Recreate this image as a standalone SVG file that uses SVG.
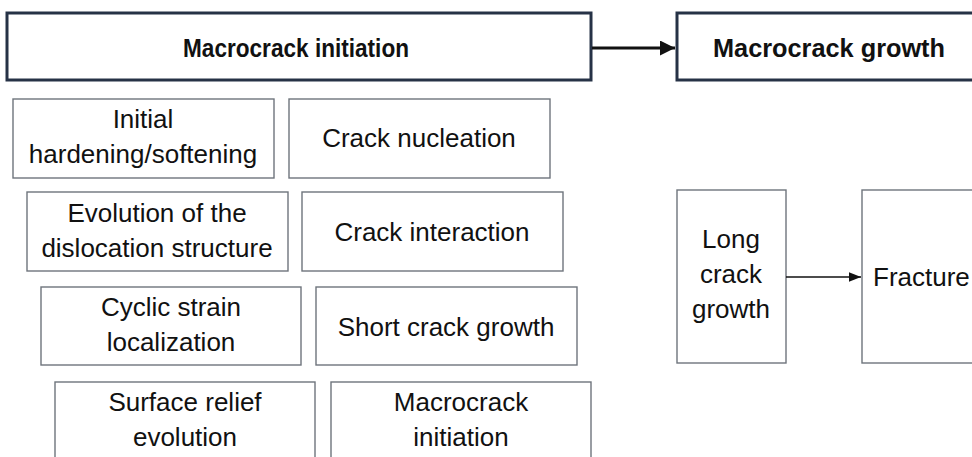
<svg xmlns="http://www.w3.org/2000/svg" width="972" height="457" viewBox="0 0 972 457">
<style>
.bg{fill:#ffffff}
.main{fill:#ffffff;stroke:#263246;stroke-width:3}
.box{fill:#ffffff;stroke:#6e747c;stroke-width:1.4}
text{font-family:"Liberation Sans",Arial,sans-serif;fill:#111111;text-anchor:middle}
.t{font-size:26px}
.b{font-size:26.5px;font-weight:bold}
.c1{stroke:#111111;stroke-width:3;fill:none}
.c2{stroke:#111111;stroke-width:1.5;fill:none}
</style>
<defs>
<marker id="ah1" markerWidth="5" markerHeight="5" refX="5" refY="2.5" orient="auto" markerUnits="strokeWidth"><path d="M0,0 L5,2.5 L0,5 z" fill="#111111"/></marker>
<marker id="ah2" markerWidth="8" markerHeight="8" refX="8" refY="4" orient="auto" markerUnits="strokeWidth"><path d="M0,0.8 L8,4 L0,7.2 z" fill="#111111"/></marker>
</defs>
<rect class="bg" x="0" y="0" width="972" height="457"/>
<g id="macro-init">
<rect class="main" x="7" y="13" width="584" height="67"/>
<text class="b" x="183" y="57" style="text-anchor:start" textLength="226" lengthAdjust="spacingAndGlyphs">Macrocrack initiation</text>
</g>
<g id="macro-growth">
<rect class="main" x="677" y="13" width="300" height="67"/>
<text class="b" x="713" y="57" style="text-anchor:start" textLength="232" lengthAdjust="spacingAndGlyphs">Macrocrack growth</text>
</g>
<g id="n1">
<rect class="box" x="13" y="99" width="261" height="79"/>
<text class="t" x="143" y="128">Initial</text>
<text class="t" x="143" y="163">hardening/softening</text>
</g>
<g id="n2">
<rect class="box" x="289" y="99" width="261" height="79"/>
<text class="t" x="419" y="147">Crack nucleation</text>
</g>
<g id="n3">
<rect class="box" x="27" y="192" width="261" height="79"/>
<text class="t" x="157" y="222">Evolution of the</text>
<text class="t" x="157" y="257">dislocation structure</text>
</g>
<g id="n4">
<rect class="box" x="302" y="192" width="261" height="79"/>
<text class="t" x="432" y="241">Crack interaction</text>
</g>
<g id="n5">
<rect class="box" x="41" y="287" width="260" height="78"/>
<text class="t" x="171" y="316">Cyclic strain</text>
<text class="t" x="171" y="351">localization</text>
</g>
<g id="n6">
<rect class="box" x="316" y="287" width="261" height="78"/>
<text class="t" x="446" y="336">Short crack growth</text>
</g>
<g id="n7">
<rect class="box" x="55" y="382" width="260" height="80"/>
<text class="t" x="185" y="411">Surface relief</text>
<text class="t" x="185" y="446">evolution</text>
</g>
<g id="n8">
<rect class="box" x="331" y="382" width="260" height="80"/>
<text class="t" x="461" y="411">Macrocrack</text>
<text class="t" x="461" y="446">initiation</text>
</g>
<g id="n9">
<rect class="box" x="677" y="190" width="109" height="173"/>
<text class="t" x="731" y="248">Long</text>
<text class="t" x="731" y="283">crack</text>
<text class="t" x="731" y="318">growth</text>
</g>
<g id="n10">
<rect class="box" x="862" y="190" width="115" height="173"/>
<text class="t" x="873" y="286" style="text-anchor:start">Fracture</text>
</g>
<g id="connectors">
<line class="c1" x1="592" y1="48" x2="675" y2="48" marker-end="url(#ah1)"/>
<line class="c2" x1="786" y1="277" x2="861" y2="277" marker-end="url(#ah2)"/>
</g>
</svg>
